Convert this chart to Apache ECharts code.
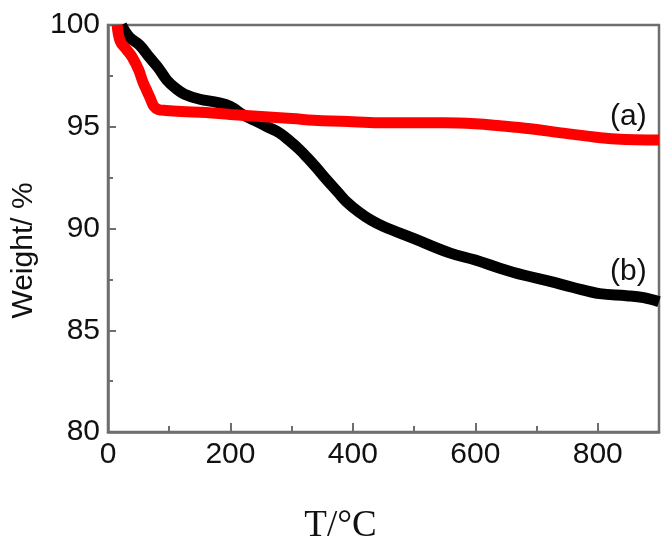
<!DOCTYPE html>
<html>
<head>
<meta charset="utf-8">
<script src="https://cdn.jsdelivr.net/npm/echarts@6/dist/echarts.min.js"></script>
<style>html,body{margin:0;padding:0;background:#fff;}#main{width:670px;height:551px;}</style>
</head>
<body>
<div id="main"></div>
<script>
// Sample (a) — red
const seriesA = [
  [15,100],[20,99.2],[30,98.8],[40,98.4],[50,97.8],[57,97.2],[63,96.8],[69,96.4],[75,96.0],
  [82,95.85],[95,95.8],[120,95.75],[160,95.7],[200,95.6],[250,95.5],[300,95.4],[350,95.3],
  [400,95.25],[450,95.2],[500,95.2],[550,95.2],[600,95.15],[640,95.05],[690,94.9],[740,94.7],
  [780,94.55],[830,94.4],[900,94.35]
];
// Sample (b) — black
const seriesB = [
  [22,100],[35,99.4],[52,99.0],[68,98.4],[82,97.9],[96,97.3],[110,96.9],[125,96.6],[150,96.35],
  [178,96.2],[200,96.0],[220,95.6],[240,95.3],[260,95.0],[280,94.7],[297,94.3],[312,93.9],
  [325,93.5],[340,93.0],[357,92.4],[375,91.8],[390,91.3],[410,90.8],[430,90.4],[450,90.1],
  [500,89.5],[558,88.8],[600,88.45],[640,88.05],[680,87.7],[722,87.4],[760,87.1],[803,86.8],
  [847,86.7],[875,86.6],[900,86.4]
];
const xTicks = [0,200,400,600,800];
const yTicks = [80,85,90,95,100];
const seriesLabels = ['(a)','(b)'];

const chart = echarts.init(document.getElementById('main'));
const axisCol = '#6e6e6e';
chart.setOption({
  animation:false,
  backgroundColor:'#fff',
  grid:{left:108,right:11,top:25,bottom:119,show:true,borderColor:axisCol,borderWidth:2.5,backgroundColor:'transparent'},
  xAxis:{
    type:'value',min:0,max:900,interval:200,
    name:'T/°C',nameLocation:'middle',nameGap:76,
    nameTextStyle:{fontFamily:'Liberation Serif',fontSize:37,color:'#111',padding:[0,86,0,0]},
    axisLine:{show:true,lineStyle:{color:axisCol,width:2.5}},
    axisTick:{show:true,inside:true,length:9,lineStyle:{color:axisCol,width:2}},
    minorTick:{show:true,splitNumber:2,length:6,lineStyle:{color:axisCol,width:2}},
    splitLine:{show:false},
    axisLabel:{fontFamily:'Liberation Sans',fontSize:30,color:'#111',margin:8,
      formatter:v=>xTicks.includes(v)?String(v):''}
  },
  yAxis:{
    type:'value',min:80,max:100,interval:5,
    name:'Weight/ %',nameLocation:'middle',nameGap:67,
    nameTextStyle:{fontFamily:'Liberation Sans',fontSize:30,color:'#111',padding:[0,44,0,0]},
    axisLine:{show:true,lineStyle:{color:axisCol,width:2.5}},
    axisTick:{show:true,inside:true,length:8,lineStyle:{color:axisCol,width:2}},
    minorTick:{show:true,splitNumber:2,length:5,lineStyle:{color:axisCol,width:2}},
    splitLine:{show:false},
    axisLabel:{fontFamily:'Liberation Sans',fontSize:30,color:'#111',margin:8,
      formatter:v=>yTicks.includes(v)?String(v):''}
  },
  series:[
    {type:'line',name:seriesLabels[1],data:seriesB,smooth:0.4,showSymbol:false,clip:true,
     lineStyle:{color:'#000',width:11},z:2,
     markPoint:{symbol:'circle',symbolSize:0,data:[{coord:[850,87.9],value:seriesLabels[1]}],
       label:{show:true,formatter:seriesLabels[1],fontFamily:'Liberation Sans',fontSize:30,color:'#111',position:'inside'}}},
    {type:'line',name:seriesLabels[0],data:seriesA,smooth:0.4,showSymbol:false,clip:true,
     lineStyle:{color:'#ff0000',width:11},z:3,
     markPoint:{symbol:'circle',symbolSize:0,data:[{coord:[850,95.5],value:seriesLabels[0]}],
       label:{show:true,formatter:seriesLabels[0],fontFamily:'Liberation Sans',fontSize:30,color:'#111',position:'inside'}}}
  ]
});
</script>
</body>
</html>
